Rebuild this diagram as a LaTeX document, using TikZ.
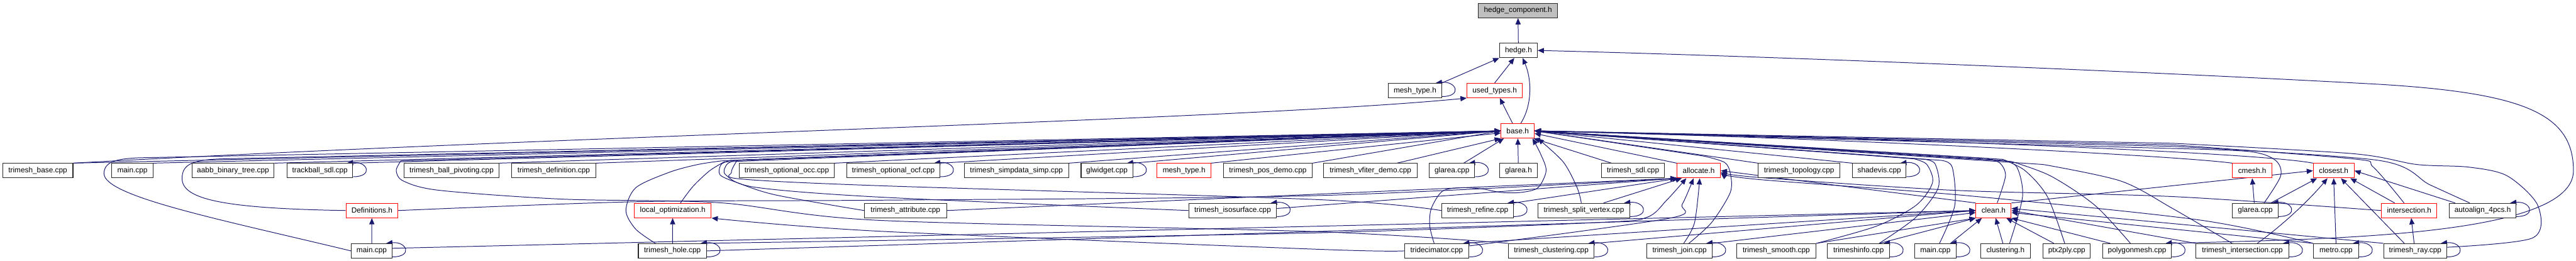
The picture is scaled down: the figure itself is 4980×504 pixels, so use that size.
\documentclass[tikz,border=0pt]{standalone}
\usepackage{fontspec}
\setmainfont{Liberation Sans}
\usepackage{tikz}
\usetikzlibrary{arrows.meta,backgrounds}
\definecolor{dg-edge}{HTML}{191970}
\definecolor{dg-trunc}{HTML}{FF0000}
\definecolor{dg-root}{HTML}{BFBFBF}

\begin{document}
\begin{tikzpicture}[x=1pt, y=-1pt,
    file/.style={draw=black!85, line width=1.3pt, fill=white, minimum height=28pt,
        inner sep=0pt, font=\fontsize{14.4}{16}\selectfont},
    trunc/.style={file, draw=dg-trunc},
    inc/.style={draw=dg-edge, line width=1.2pt, -{Triangle[length=12pt,width=10pt]}}]

    \useasboundingbox (0,0) rectangle (4980,504);

    % Top of the graph
    \node[file, fill=dg-root, minimum width=153pt] (hc) at (2934.5,20.5) {hedge\_component.h};
    \node[file, minimum width=73pt] (hedge) at (2935.5,97.5) {hedge.h};
    \node[file, minimum width=103pt] (mtA) at (2735.5,175) {mesh\_type.h};
    \node[trunc, minimum width=107pt] (ut) at (2889.5,175) {used\_types.h};
    \node[trunc, minimum width=64pt] (base) at (2934,253) {base.h};

    % Files including base.h (name/label/left/right/row)
    \foreach \n/\t/\a/\b/\y in {
        tbase/trimesh\_base.cpp/5/141/330, mainA/main.cpp/216/296/330,
        aabb/aabb\_binary\_tree.cpp/371/530/330, track/trackball\_sdl.cpp/555/682/330,
        bpiv/trimesh\_ball\_pivoting.cpp/781/965/330, tdef/trimesh\_definition.cpp/989/1152/330,
        occ/trimesh\_optional\_occ.cpp/1429/1613/330, ocf/trimesh\_optional\_ocf.cpp/1637/1817/330,
        simp/trimesh\_simpdata\_simp.cpp/1864/2066/330, glw/glwidget.cpp/2090/2190/330,
        pos/trimesh\_pos\_demo.cpp/2365/2537/330, vfit/trimesh\_vfiter\_demo.cpp/2559/2740/330,
        glcA/glarea.cpp/2763/2851/330, glh/glarea.h/2899/2972/330,
        sdl/trimesh\_sdl.cpp/3096/3218/330, topo/trimesh\_topology.cpp/3399/3557/330,
        shade/shadevis.cpp/3581/3685/330,
        attr/trimesh\_attribute.cpp/1671/1830/407, iso/trimesh\_isosurface.cpp/2298/2468/407,
        refine/trimesh\_refine.cpp/2787/2926/407, split/trimesh\_split\_vertex.cpp/2973/3151/407,
        glcB/glarea.cpp/4316/4404/407, autoal/autoalign\_4pcs.h/4735/4864/407,
        mainC/main.cpp/679/758/485, hole/trimesh\_hole.cpp/1234/1366/485,
        trideci/tridecimator.cpp/2715/2840/485, clus/trimesh\_clustering.cpp/2916/3082/485,
        join/trimesh\_join.cpp/3184/3310/485, smooth/trimesh\_smooth.cpp/3357/3511/485,
        info/trimeshinfo.cpp/3533/3653/485, mainB/main.cpp/3701/3782/485,
        clush/clustering.h/3829/3925/485, ptx/ptx2ply.cpp/3950/4041/485,
        poly/polygonmesh.cpp/4065/4198/485, tint/trimesh\_intersection.cpp/4245/4425/485,
        metro/metro.cpp/4472/4560/485, ray/trimesh\_ray.cpp/4608/4730/485} {
        \node[file, minimum width={(\b-\a)*1pt}] (\n) at ({(\a+\b)/2},\y) {\t};
    }

    % Truncated headers (red frame)
    \foreach \n/\t/\a/\b/\y in {
        mtB/mesh\_type.h/2237/2341/330, alloc/allocate.h/3242/3326/330,
        cmesh/cmesh.h/4316/4392/330, closest/closest.h/4472/4551/330,
        defs/Definitions.h/669/769/407, locopt/local\_optimization.h/1226/1375/407,
        clean/clean.h/3820/3888/407, inter/intersection.h/4604/4711/407} {
        \node[trunc, minimum width={(\b-\a)*1pt}] (\n) at ({(\a+\b)/2},\y) {\t};
    }

    \begin{scope}[on background layer]
        % hedge.h and used_types.h
        \draw[inc] (hedge) -- (hc);
        \draw[inc] (mtA.north east) -- (hedge.south west);
        \draw[inc] (ut.north) -- ([xshift=-8pt]hedge.south);
        \draw[inc] ([xshift=6pt]base.north) .. controls (2964,200) and (2960,150) .. ([xshift=8pt]hedge.south);
        \draw[inc] ([xshift=-10pt]base.north) -- ([xshift=10pt]ut.south);
        \draw[inc] (tbase.north east) .. controls (1100,262) and (2400,232) .. (ut.south west);
        \draw[inc] (poly.north east) .. controls (4500,462) and (4975,458) .. (4975,330)
            .. controls (4975,220) and (4880,180) .. (4600,163)
            .. controls (4150,138) and (3400,108) .. (hedge.east);

        % base.h from the row beside it
        \foreach \s in {tbase,mainA,aabb,track,bpiv,tdef,occ,ocf,simp,glw,pos} {
            \draw[inc] (\s.north east) -- (base.west);
        }
        \draw[inc] (mtB.north east) -- ([yshift=-4pt]base.west);
        \draw[inc] ([xshift=-40pt]vfit.north east) -- (base.south west);
        \draw[inc] ([xshift=-22pt]glcA.north east) -- ([xshift=6pt]base.south west);
        \draw[inc] (glh) -- (base);
        \draw[inc] ([xshift=20pt]sdl.north west) -- ([xshift=-2pt]base.south east);
        \draw[inc] (alloc.north west) -- ([yshift=-5pt]base.east);
        \draw[inc] (topo.north west) -- (base.east);
        \draw[inc] (shade.north west) -- (base.east);
        \draw[inc] (cmesh.north west) .. controls (4200,300) and (3500,265) .. (base.east);
        \draw[inc] (closest.north west) .. controls (4350,292) and (3500,262) .. (base.east);

        % base.h from below, left bundle
        \draw[inc] (defs.west) .. controls (430,403) and (352,385) .. (352,345)
            .. controls (352,316) and (375,309) .. (430,307) -- (base.west);
        \draw[inc] (mainC.west) .. controls (430,425) and (200,380) .. (201,335)
            .. controls (202,312) and (225,307) .. (270,305) -- (base.west);
        \draw[inc] plot[smooth] coordinates {(clus.north west) (2550,448) (1700,426) (1392,392)
            (1088,385) (850,368) (780,350) (766,330) (775,311)} -- (base.west);
        \draw[inc] plot[smooth] coordinates {([xshift=15pt]locopt.north) (1340,360) (1372,330) (1400,313)} -- (base.west);
        \draw[inc] plot[smooth] coordinates {([xshift=-33pt]hole.north) (1229,443) (1210,407)
            (1229,363) (1294,333) (1349,318) (1395,311)} -- (base.west);
        \draw[inc] plot[smooth] coordinates {(attr.west) (1500,377) (1425,353) (1392,338) (1394,318) (1412,310)} -- (base.west);
        \draw[inc] plot[smooth] coordinates {(iso.west) (1700,381) (1460,362) (1403,338) (1405,318) (1420,310)} -- (base.west);
        \draw[inc] plot[smooth] coordinates {(refine.west) (2550,386) (1700,359) (1432,346) (1414,333) (1425,310)} -- (base.west);

        % base.h from below, close by
        \draw[inc] plot[smooth] coordinates {([xshift=-5pt]trideci.north) (2764,437) (2767,403) (2788,370)
            (2821,363) (2864,365) (2902,372) (2940,372) (2973,363) (2989,330) (2978,297) ([xshift=-4pt]base.south east)};
        \draw[inc] plot[smooth] coordinates {([xshift=-5pt]split.north) (3049,363) (3022,313) ([xshift=6pt]base.south east)};
        \draw[inc] plot[smooth] coordinates {([xshift=18pt]join.north) (3309,430) (3345,372) (3345,335)
            (3334,314) (3295,302)} -- (base.east);
        \draw[inc] plot[smooth] coordinates {([xshift=7pt]clean.north) (3877,340) (3866,315) (3840,306)} -- (base.east);
        \draw[inc] plot[smooth] coordinates {(smooth.north east) (3628,437) (3704,397) (3736,353) (3725,318) (3700,307)} -- (base.east);
        \draw[inc] plot[smooth] coordinates {([xshift=40pt]info.north) (3704,420) (3747,363) (3741,317) (3720,308)} -- (base.east);
        \draw[inc] plot[smooth] coordinates {([xshift=8pt]mainB.north) (3779,397) (3774,323) (3752,310)} -- (base.east);
        \draw[inc] plot[smooth] coordinates {([xshift=8pt]clush.north) (3910,380) (3899,323) (3872,310)} -- (base.east);
        \draw[inc] plot[smooth] coordinates {([xshift=-4pt]ptx.north) (3958,380) (3915,330) (3872,308)} -- (base.east);
        \draw[inc] plot[smooth] coordinates {([xshift=-13pt]poly.north) (4050,397) (3964,340) (3888,312)} -- (base.east);
        \draw[inc] plot[smooth] coordinates {([xshift=17pt]glcB.north) (4409,340) (4399,310) (4349,293) (4200,287)} -- (base.east);
        \draw[inc] plot[smooth] coordinates {([xshift=-10pt]inter.north) (4588,323) (4548,307) (4200,280)} -- (base.east);
        \draw[inc] plot[smooth] coordinates {([xshift=-25pt]autoal.north) (4697,357) (4598,310) (4200,283)} -- (base.east);
        \draw[inc] plot[smooth] coordinates {([yshift=7pt]ray.east) (4896,460) (4906,397) (4847,340)
            (4772,323) (4672,318) (4548,297) (4200,277)} -- (base.east);
        \draw[inc] plot[smooth] coordinates {([xshift=-20pt]tint.north) (4200,403) (4100,350) (3950,318)} -- (base.east);

        % allocate.h
        \draw[inc] plot[smooth] coordinates {(defs.east) (1229,390) (1700,387) (2550,378) (alloc.south west)};
        \draw[inc] (attr.east) -- (alloc.south west);
        \draw[inc] ([yshift=4pt]iso.east) -- (alloc.south west);
        \draw[inc] (refine.north east) -- ([xshift=4pt]alloc.south west);
        \draw[inc] ([xshift=38pt]split.north) -- ([xshift=10pt]alloc.south west);
        \draw[inc] plot[smooth] coordinates {([yshift=-5pt]trideci.north east) (3227,422) (3252,395) ([xshift=-10pt]alloc.south)};
        \draw[inc] plot[smooth] coordinates {([xshift=8pt]join.north) (3276,430) ([xshift=2pt]alloc.south)};
        \draw[inc] plot[smooth] coordinates {([xshift=-5pt]hole.north east) (1700,465) (2550,450)
            (3092,430) (3184,420) (3222,387) ([xshift=-24pt]alloc.south)};
        \draw[inc] (clean.north west) -- (alloc.east);
        \draw[inc] plot[smooth] coordinates {(inter.west) (4200,380) (3780,368) (3400,343) ([yshift=-3pt]alloc.east)};
        \draw[inc] plot[smooth] coordinates {(metro.north west) (4250,425) (3800,378) (3400,347) ([yshift=-5pt]alloc.east)};

        % clean.h
        \draw[inc] ([yshift=5pt]mainC.east) -- (clean.west);
        \draw[inc] (hole.east) -- (clean.west);
        \draw[inc] ([xshift=-10pt]trideci.north east) -- (clean.west);
        \draw[inc] (clus.north east) -- (clean.west);
        \draw[inc] (join.north east) -- ([yshift=-4pt]clean.west);
        \draw[inc] (smooth.north east) -- (clean.south west);
        \draw[inc] ([xshift=-20pt]info.north east) -- (clean.south west);
        \draw[inc] ([xshift=-12pt]mainB.north east) -- ([xshift=12pt]clean.south west);
        \draw[inc] ([xshift=-5pt]clush.north) -- ([xshift=4pt]clean.south);
        \draw[inc] ([xshift=-25pt]ptx.north) -- ([xshift=-10pt]clean.south east);
        \draw[inc] ([xshift=15pt]poly.north west) -- (clean.south east);
        \draw[inc] (tint.north west) -- (clean.east);
        \draw[inc] (metro.north west) -- ([yshift=-4pt]clean.east);
        \draw[inc] (ray.north west) -- ([yshift=4pt]clean.east);

        % closest.h, cmesh.h, intersection.h
        \draw[inc] (clean.north east) -- (closest.west);
        \draw[inc] ([xshift=30pt]glcB.north) -- ([xshift=8pt]closest.south west);
        \draw[inc] ([xshift=-2pt]glcB.north) -- (cmesh.south);
        \draw[inc] ([xshift=29pt]tint.north) .. controls (4420,430) and (4470,380) .. ([xshift=-12pt]closest.south);
        \draw[inc] (metro.north) -- (closest.south);
        \draw[inc] ([xshift=-21pt]ray.north) -- ([xshift=14pt]closest.south);
        \draw[inc] ([xshift=26pt]inter.north west) -- ([xshift=-8pt]closest.south east);
        \draw[inc] ([xshift=12pt]autoal.north west) -- (closest.east);
        \draw[inc] ([xshift=-2pt]ray.north) -- ([xshift=4pt]inter.south);

        % local_optimization.h and Definitions.h
        \draw[inc] (hole) -- (locopt);
        \draw[inc] plot[smooth] coordinates {(trideci.west) (2550,482) (1700,447) (locopt.south east)};
        \draw[inc] (mainC) -- (defs);

        % self loops
        \foreach \n in {mtA,track,ocf,glw,glcA,shade,iso,refine,split,glcB,autoal,
                        mainC,hole,trideci,clus,join,info,mainB,poly,tint,metro,ray} {
            \draw[inc] ([yshift=3pt]\n.south east) .. controls +(40,0) and +(40,-4) .. ([xshift=-12pt]\n.north east);
        }
    \end{scope}
\end{tikzpicture}
\end{document}
